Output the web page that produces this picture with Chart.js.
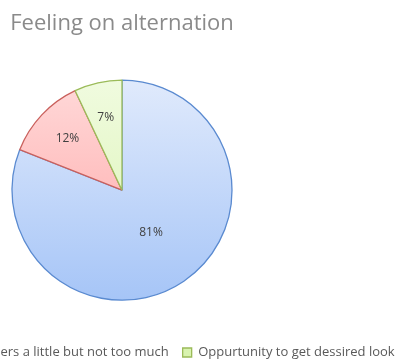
<!DOCTYPE html>
<html>
<head>
<meta charset="utf-8">
<script src="https://cdn.jsdelivr.net/npm/chart.js@4/dist/chart.umd.min.js"></script>
<style>
  html, body { margin: 0; padding: 0; background: #fff; overflow: hidden; }
  .wrap { position: relative; width: 400px; height: 361px; overflow: hidden; }
  /* the reference is a crop of a wider chart, so the canvas hangs off the left edge */
  .chart-box { position: absolute; left: -228px; top: 0; width: 700px; height: 369px; }
</style>
</head>
<body>
<div class="wrap">
  <div class="chart-box"><canvas id="pieChart"></canvas></div>
</div>
<script>
const categories = ['Bothers a lot', 'Bothers a little but not too much', 'Oppurtunity to get dessired look'];
const shares = [81, 12, 7];

const topColors = ['#e0eafc', '#ffd9d9', '#f0fbdf'];
const bottomColors = ['#a6c5f7', '#ffa3a3', '#d9f3b0'];
const borderColors = ['#5a8ad0', '#c9605c', '#9bbb59'];

function sliceFill(context) {
    const chart = context.chart;
    const area = chart.chartArea;
    if (!area) return topColors[context.dataIndex];
    const meta = chart.getDatasetMeta(0);
    const arc = meta.data[context.dataIndex];
    const cy = arc && arc.y ? arc.y : (area.top + area.bottom) / 2;
    const r = arc && arc.outerRadius ? arc.outerRadius : 110;
    const g = chart.ctx.createLinearGradient(0, cy - r, 0, cy + r);
    g.addColorStop(0, topColors[context.dataIndex]);
    g.addColorStop(1, bottomColors[context.dataIndex]);
    return g;
}

// percent labels inside the slices, placed along each slice's middle angle
const sliceLabels = {
    id: 'sliceLabels',
    afterDatasetsDraw(chart) {
        const ctx = chart.ctx;
        const meta = chart.getDatasetMeta(0);
        ctx.save();
        ctx.font = '12px "Open Sans", sans-serif';
        ctx.fillStyle = '#404040';
        ctx.textAlign = 'center';
        ctx.textBaseline = 'middle';
        meta.data.forEach((arc, i) => {
            const mid = (arc.startAngle + arc.endAngle) / 2;
            const f = shares[i] > 50 ? 0.47 : 0.68;
            const x = arc.x + Math.cos(mid) * arc.outerRadius * f;
            const y = arc.y + Math.sin(mid) * arc.outerRadius * f;
            ctx.fillText(shares[i] + '%', x, y);
        });
        ctx.restore();
    }
};

new Chart(document.getElementById('pieChart'), {
    type: 'pie',
    data: {
        labels: categories,
        datasets: [{
            data: shares,
            backgroundColor: sliceFill,
            borderColor: borderColors,
            borderWidth: 1.3
        }]
    },
    options: {
        responsive: true,
        maintainAspectRatio: false,
        animation: false,
        radius: 110,
        plugins: {
            title: {
                display: true,
                text: 'Feeling on alternation',
                color: '#8a8a8a',
                font: { family: '"Open Sans", sans-serif', size: 22, weight: 'normal' },
                padding: { top: 11, bottom: 11 }
            },
            legend: {
                position: 'bottom',
                labels: {
                    color: '#595959',
                    font: { family: '"Open Sans", sans-serif', size: 13 },
                    boxWidth: 9,
                    boxHeight: 9,
                    padding: 14
                }
            },
            tooltip: { enabled: false }
        }
    },
    plugins: [sliceLabels]
});
</script>
</body>
</html>
